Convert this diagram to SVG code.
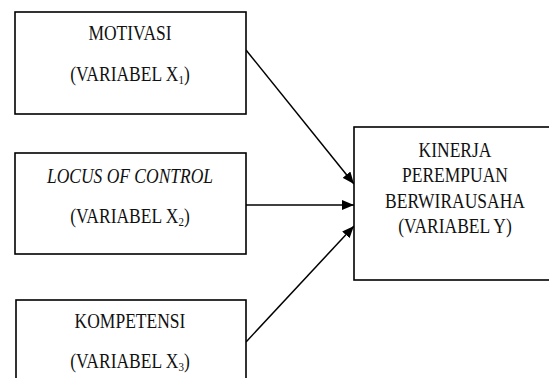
<svg xmlns="http://www.w3.org/2000/svg" width="549" height="378" viewBox="0 0 549 378">
<style>
.box{fill:#fff;stroke:#000;stroke-width:1.6}
.t{font-family:'Liberation Serif','DejaVu Serif',serif;font-size:17.5px;fill:#111;text-anchor:middle}
.sub{font-size:11px}
.conn{stroke:#000;stroke-width:1.5;fill:none}
</style>
<defs>
<marker id="ah" viewBox="0 0 12 10" refX="12" refY="5" markerWidth="12" markerHeight="10" markerUnits="userSpaceOnUse" orient="auto">
<path d="M0,0 L12,5 L0,10 Z" fill="#000"/>
</marker>
</defs>
<rect width="549" height="378" fill="#fff"/>
<g id="connectors">
<line class="conn" x1="246" y1="50" x2="354" y2="184" marker-end="url(#ah)"/>
<line class="conn" x1="246" y1="205" x2="354" y2="205" marker-end="url(#ah)"/>
<line class="conn" x1="246" y1="342" x2="354" y2="226" marker-end="url(#ah)"/>
</g>
<g id="x1">
<rect class="box" x="15" y="12" width="231" height="102"/>
<text class="t" x="130" y="40" transform="matrix(1,0,0,1.15,0,-6)">MOTIVASI</text>
<text class="t" x="130" y="81" transform="matrix(1,0,0,1.15,0,-12.15)">(VARIABEL X<tspan class="sub" dy="3">1</tspan><tspan dy="-3">)</tspan></text>
</g>
<g id="x2">
<rect class="box" x="15" y="153" width="231" height="101"/>
<text class="t" x="130" y="183" font-style="italic" transform="matrix(1,0,0,1.15,0,-27.45)">LOCUS OF CONTROL</text>
<text class="t" x="130" y="223" transform="matrix(1,0,0,1.15,0,-33.45)">(VARIABEL X<tspan class="sub" dy="3">2</tspan><tspan dy="-3">)</tspan></text>
</g>
<g id="x3">
<rect class="box" x="16" y="300" width="230" height="90"/>
<text class="t" x="130" y="328" transform="matrix(1,0,0,1.15,0,-49.2)">KOMPETENSI</text>
<text class="t" x="130" y="368" transform="matrix(1,0,0,1.15,0,-55.2)">(VARIABEL X<tspan class="sub" dy="3">3</tspan><tspan dy="-3">)</tspan></text>
</g>
<g id="y">
<rect class="box" x="354" y="127" width="210" height="153"/>
<text class="t" x="455" y="157" transform="matrix(1,0,0,1.15,0,-23.55)">KINERJA</text>
<text class="t" x="455" y="182" transform="matrix(1,0,0,1.15,0,-27.3)">PEREMPUAN</text>
<text class="t" x="455" y="208" transform="matrix(1,0,0,1.15,0,-31.2)">BERWIRAUSAHA</text>
<text class="t" x="455" y="233" transform="matrix(1,0,0,1.15,0,-34.95)">(VARIABEL Y)</text>
</g>
</svg>
